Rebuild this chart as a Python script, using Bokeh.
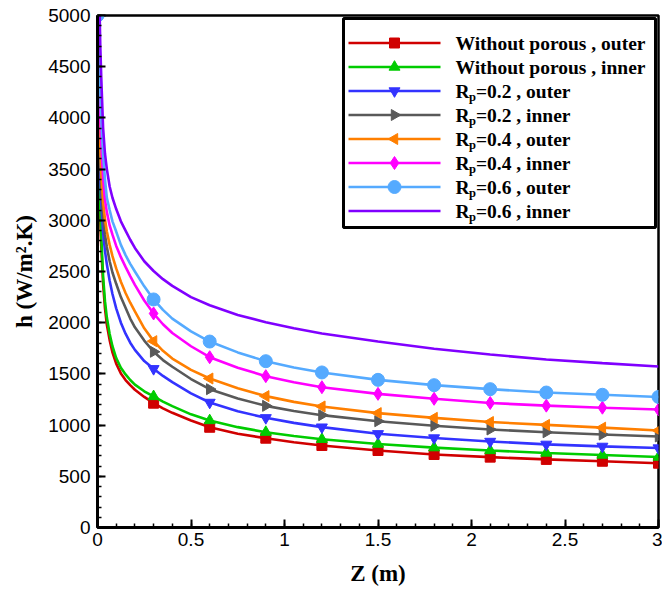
import math
from bokeh.plotting import figure
from bokeh.models import FixedTicker, ColumnDataSource, Range1d
from bokeh.core.properties import value
from bokeh.embed import file_html
from bokeh.resources import INLINE

# ---- data ----
z = [0, 0.005, 0.01, 0.015, 0.02, 0.03, 0.04, 0.05, 0.065, 0.08, 0.1, 0.125,
     0.15, 0.175, 0.2, 0.25, 0.3, 0.35, 0.4, 0.5, 0.6, 0.75, 0.9, 1.05, 1.2,
     1.5, 1.8, 2.1, 2.4, 2.7, 3.0]

h_wo_outer = [5600, 4000, 3300, 2980, 2750, 2380, 2140, 1980, 1830, 1710, 1600,
              1505, 1440, 1390, 1345, 1275, 1214, 1163, 1120, 1045, 979, 915,
              872, 833, 801, 752, 713, 687, 665, 647, 628]
h_wo_inner = [5600, 4150, 3450, 3100, 2850, 2450, 2210, 2050, 1890, 1770, 1655,
              1560, 1495, 1440, 1395, 1330, 1280, 1230, 1185, 1105, 1045, 980,
              931, 893, 862, 815, 780, 752, 728, 708, 688]
h_02_outer = [5600, 4400, 3750, 3400, 3170, 2880, 2700, 2570, 2410, 2280, 2140,
              2000, 1893, 1805, 1735, 1625, 1550, 1480, 1420, 1310, 1221, 1135,
              1071, 1022, 980, 915, 874, 840, 812, 792, 776]
h_02_inner = [5600, 4500, 3900, 3550, 3320, 3030, 2860, 2740, 2600, 2490, 2380,
              2250, 2145, 2040, 1955, 1825, 1716, 1635, 1570, 1450, 1351, 1260,
              1188, 1138, 1097, 1038, 993, 957, 930, 908, 889]
h_04_outer = [5600, 4700, 4100, 3700, 3470, 3180, 3010, 2890, 2760, 2650, 2530,
              2400, 2290, 2195, 2110, 1945, 1820, 1725, 1650, 1540, 1455, 1360,
              1283, 1227, 1182, 1117, 1071, 1030, 1002, 975, 948]
h_04_inner = [5600, 5000, 4400, 4000, 3750, 3420, 3200, 3080, 2950, 2860, 2750,
              2640, 2545, 2455, 2370, 2217, 2090, 1985, 1900, 1770, 1663, 1560,
              1478, 1418, 1370, 1305, 1257, 1216, 1190, 1170, 1152]
h_06_outer = [5000, 4800, 4600, 4250, 4000, 3650, 3400, 3220, 3100, 2990, 2890,
              2760, 2660, 2575, 2500, 2355, 2227, 2125, 2040, 1915, 1816, 1710,
              1624, 1562, 1514, 1442, 1390, 1351, 1318, 1296, 1275]
h_06_inner = [7000, 6000, 5150, 4700, 4400, 3900, 3650, 3500, 3330, 3220, 3110,
              2990, 2900, 2810, 2730, 2600, 2505, 2425, 2360, 2250, 2170, 2075,
              2005, 1945, 1895, 1816, 1745, 1689, 1640, 1605, 1572]

marker_z = [0, 0.3, 0.6, 0.9, 1.2, 1.5, 1.8, 2.1, 2.4, 2.7, 3.0]

labels = ["Without porous , outer", "Without porous , inner",
          "R_p=0.2 , outer", "R_p=0.2 , inner",
          "R_p=0.4 , outer", "R_p=0.4 , inner",
          "R_p=0.6 , outer", "R_p=0.6 , inner"]

x_ticks = [0, 0.5, 1, 1.5, 2, 2.5, 3]
y_ticks = [0, 500, 1000, 1500, 2000, 2500, 3000, 3500, 4000, 4500, 5000]

series = [h_wo_outer, h_wo_inner, h_02_outer, h_02_inner,
          h_04_outer, h_04_inner, h_06_outer, h_06_inner]

# ---- styles ----
colors = ["#d00000", "#00cc00", "#3333ff", "#595959",
          "#ff7f00", "#ff00ff", "#55aaff", "#8000ff"]
markers = ["square", "triangle", "inverted_triangle", "triangle",
           "triangle", "diamond", "circle", None]
angles = [0, 0, 0, -math.pi / 2, math.pi / 2, 0, 0, 0]
sizes = [10, 11, 11, 11, 11, 13, 13, 0]

FW, FH = 561, 512   # frame size in pixels
p = figure(width=662, height=592, x_range=(0, 3), y_range=(0, 5000),
           output_backend="svg", toolbar_location=None,
           min_border_left=97, min_border_right=4, min_border_top=15,
           min_border_bottom=65, background_fill_color="white",
           border_fill_color="white")
# pixel-unit ranges for the hand-drawn legend (origin at frame top-left)
p.extra_x_ranges = {"lx": Range1d(0, FW)}
p.extra_y_ranges = {"ly": Range1d(FH, 0)}

p.grid.visible = False
p.outline_line_color = "black"
p.outline_line_width = 2.5

for h, col, mk, ang, sz in zip(series, colors, markers, angles, sizes):
    src = ColumnDataSource(dict(z=z, h=h))
    p.line("z", "h", source=src, line_color=col, line_width=2.6)
    if mk is not None:
        keep = [i for i, zz in enumerate(z)
                if any(abs(zz - m) < 1e-9 for m in marker_z)]
        msrc = ColumnDataSource(dict(z=[z[i] for i in keep],
                                     h=[h[i] for i in keep]))
        p.scatter("z", "h", source=msrc, marker=mk, size=sz, angle=ang,
                  fill_color=col, line_color=col)

# ---- legend (drawn by hand so that rotated markers and subscripts match) ----
L_LEFT, L_RIGHT, L_TOP, L_BOTTOM = 246, 558, 3, 212
ROW0, ROW_STEP = 27.5, 24
LINE_X0, LINE_X1, MARK_X, TEXT_X = 251, 343, 297, 358
FONT = value("Liberation Serif")

p.quad(left=[L_LEFT], right=[L_RIGHT], top=[L_TOP], bottom=[L_BOTTOM],
       fill_color="white", line_color="black", line_width=3,
       x_range_name="lx", y_range_name="ly")

for i, (lab, col, mk, ang, sz) in enumerate(zip(labels, colors, markers,
                                                 angles, sizes)):
    cy = ROW0 + i * ROW_STEP
    p.line([LINE_X0, LINE_X1], [cy, cy], line_color=col, line_width=2.6,
           x_range_name="lx", y_range_name="ly")
    if mk is not None:
        p.scatter([MARK_X], [cy], marker=mk, size=sz, angle=ang,
                  fill_color=col, line_color=col,
                  x_range_name="lx", y_range_name="ly")
    common = dict(text_font=FONT, text_font_style="bold", text_color="black",
                  text_baseline="middle", text_align="left",
                  x_range_name="lx", y_range_name="ly")
    if "_p" in lab:
        head, rest = lab.split("_p")
        p.text([TEXT_X], [cy], text=[head], text_font_size="19.5px", **common)
        p.text([TEXT_X], [cy + 6], text=["p"], text_font_size="12.5px",
               x_offset=13.5, **common)
        p.text([TEXT_X], [cy], text=[rest], text_font_size="19.5px",
               x_offset=20.5, **common)
    else:
        p.text([TEXT_X], [cy], text=[lab], text_font_size="19.5px", **common)

# ---- axes ----
for ax in (p.xaxis[0], p.yaxis[0]):
    ax.axis_line_width = 3
    ax.axis_line_color = "black"
    ax.major_tick_in = 8
    ax.major_tick_out = 0
    ax.minor_tick_in = 4
    ax.minor_tick_out = 0
    ax.major_tick_line_width = 2
    ax.minor_tick_line_width = 1.5
    ax.major_tick_line_color = "black"
    ax.minor_tick_line_color = "black"
    ax.major_label_text_font = "Liberation Sans"
    ax.major_label_text_font_size = "19px"
    ax.major_label_text_color = "black"
    ax.axis_label_text_font = "Liberation Serif"
    ax.axis_label_text_font_style = "bold"
    ax.axis_label_text_font_size = "23px"
    ax.axis_label_text_color = "black"

p.xaxis.ticker = FixedTicker(ticks=x_ticks,
                             minor_ticks=[i / 10 for i in range(0, 31)])
p.yaxis.ticker = FixedTicker(ticks=y_ticks,
                             minor_ticks=[i * 100 for i in range(0, 51)])
p.xaxis.axis_label = "Z (m)"
p.yaxis.axis_label = "h (W/m\u00b2.K)"
p.xaxis.major_label_standoff = 5
p.xaxis.axis_label_standoff = 12
p.yaxis.major_label_standoff = 7
p.yaxis.axis_label_standoff = 8

open("out.html", "w").write(file_html(p, INLINE))
